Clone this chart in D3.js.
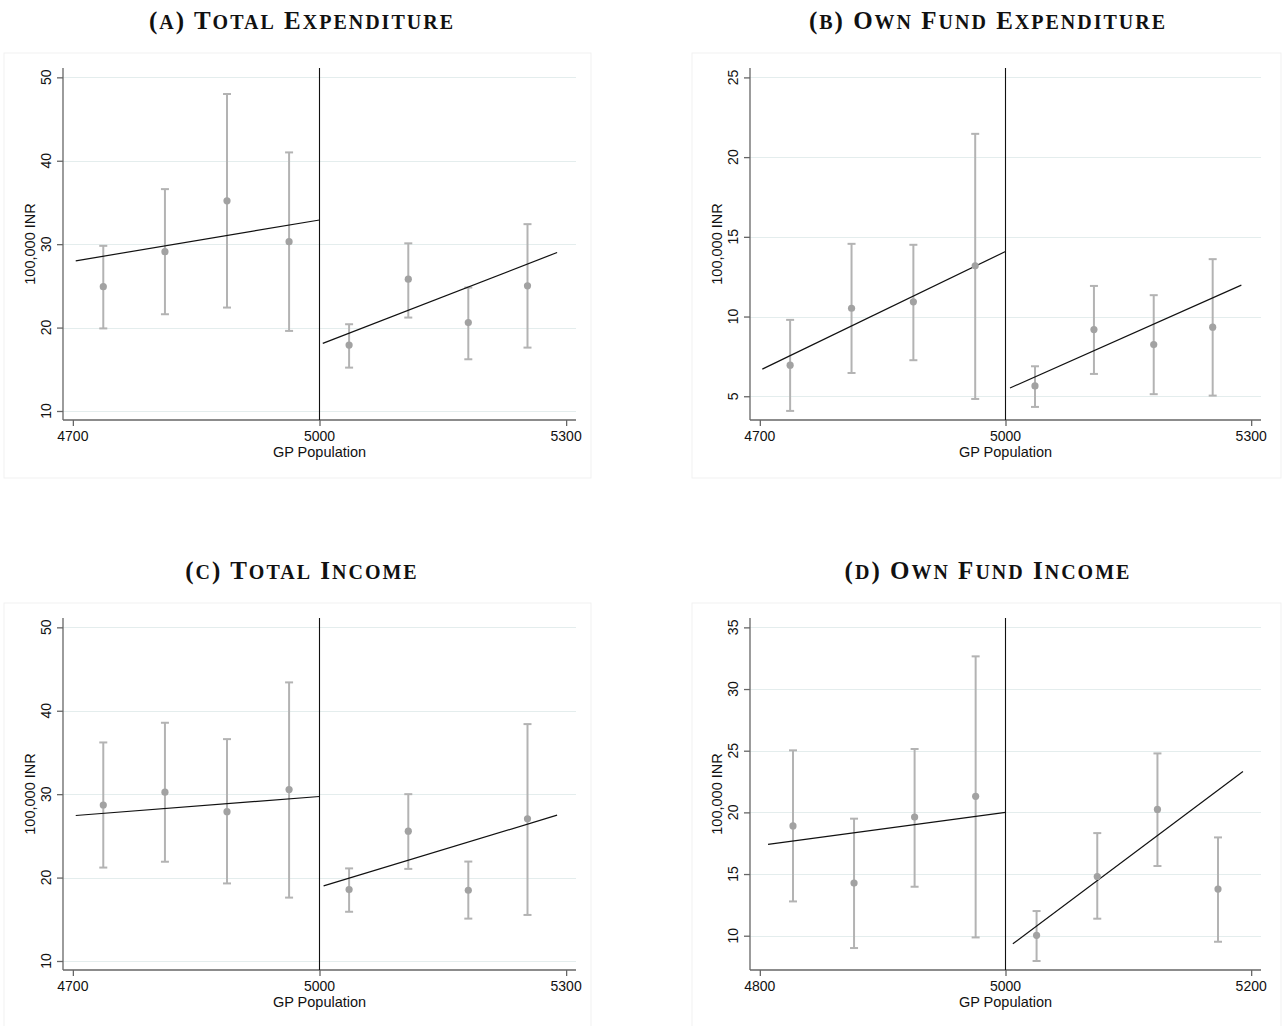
<!DOCTYPE html>
<html>
<head>
<meta charset="utf-8">
<script src="https://cdn.jsdelivr.net/npm/d3@7"></script>
<style>
  body { margin: 0; background: #fff; }
  .tick-label { font-family: "Liberation Sans", Arial, sans-serif; font-size: 14px; fill: #111; }
  .axis-title { font-family: "Liberation Sans", Arial, sans-serif; font-size: 14.5px; fill: #111; }
  .panel-title { font-family: "Liberation Serif", "Times New Roman", serif; font-weight: bold; font-size: 25px; fill: #111; letter-spacing: 2px; }
</style>
</head>
<body>
<script>
// panel titles (lowercase letters are set as small capitals)
const titles = ["(a) Total Expenditure", "(b) Own Fund Expenditure", "(c) Total Income", "(d) Own Fund Income"];

// tick labels
const xTicksWide = [4700, 5000, 5300];
const xTicksNarrow = [4800, 5000, 5200];
const yTicksA = [10, 20, 30, 40, 50];
const yTicksB = [5, 10, 15, 20, 25];
const yTicksC = [10, 20, 30, 40, 50];
const yTicksD = [10, 15, 20, 25, 30, 35];

// bin centres (GP population)
const binsWide = [4737, 4812, 4887.5, 4963, 5036, 5108, 5181, 5253];
const binsNarrow = [4827, 4876.7, 4926, 4975.7, 5025.3, 5074.7, 5123.7, 5173];

// (a) total expenditure
const meanA = [24.9, 29.1, 35.2, 30.3, 17.9, 25.8, 20.6, 25.0];
const loA = [19.9, 21.6, 22.4, 19.6, 15.2, 21.2, 16.2, 17.6];
const hiA = [29.8, 36.6, 48.0, 41.0, 20.4, 30.1, 24.8, 32.4];
const fitA = [[[4703.5, 28.0], [5000, 32.9]], [[5004, 18.1], [5289, 29.0]]];

// (b) own fund expenditure
const meanB = [6.95, 10.52, 10.92, 13.18, 5.65, 9.18, 8.24, 9.33];
const loB = [4.08, 6.46, 7.26, 4.83, 4.33, 6.4, 5.13, 5.04];
const hiB = [9.79, 14.56, 14.5, 21.46, 6.88, 11.92, 11.34, 13.6];
const fitB = [[[4703, 6.7], [5000, 14.08]], [[5005.5, 5.52], [5288, 11.97]]];

// (c) total income
const meanC = [28.7, 30.24, 27.9, 30.56, 18.56, 25.56, 18.48, 27.04];
const loC = [21.2, 21.9, 19.3, 17.6, 15.9, 21.04, 15.08, 15.52];
const hiC = [36.2, 38.56, 36.6, 43.4, 21.1, 30.0, 21.92, 38.4];
const fitC = [[[4703.5, 27.44], [5000, 29.72]], [[5005, 19.0], [5289, 27.48]]];

// (d) own fund income
const meanD = [18.9, 14.27, 19.62, 21.3, 10.03, 14.8, 20.24, 13.78];
const loD = [12.78, 9.0, 13.97, 9.86, 7.95, 11.38, 15.65, 9.51];
const hiD = [25.03, 19.49, 25.14, 32.65, 12.0, 18.32, 24.78, 17.97];
const fitD = [[[4806.7, 17.41], [5000, 20.0]], [[5006, 9.35], [5193.3, 23.32]]];

const svg = d3.select("body").append("svg")
  .attr("width", 1282)
  .attr("height", 1026);

const panels = [
  { title: titles[0], left: 63, right: 576, top: 68, bottom: 420, xDom: [4688, 5312], yDom: [8.92, 51.12],
    xTicks: xTicksWide, yTicks: yTicksA, bins: binsWide, mean: meanA, lo: loA, hi: hiA, fit: fitA,
    titleX: 302, titleY: 29, frame: [4, 53, 591, 478] },
  { title: titles[1], left: 750, right: 1261, top: 68, bottom: 420, xDom: [4688, 5312], yDom: [3.51, 25.59],
    xTicks: xTicksWide, yTicks: yTicksB, bins: binsWide, mean: meanB, lo: loB, hi: hiB, fit: fitB,
    titleX: 988, titleY: 29, frame: [692, 53, 1281, 478] },
  { title: titles[2], left: 63, right: 576, top: 618, bottom: 970, xDom: [4688, 5312], yDom: [8.92, 51.12],
    xTicks: xTicksWide, yTicks: yTicksC, bins: binsWide, mean: meanC, lo: loC, hi: hiC, fit: fitC,
    titleX: 302, titleY: 579, frame: [4, 603, 591, 1030] },
  { title: titles[3], left: 750, right: 1261, top: 618, bottom: 970, xDom: [4792, 5208], yDom: [7.22, 35.76],
    xTicks: xTicksNarrow, yTicks: yTicksD, bins: binsNarrow, mean: meanD, lo: loD, hi: hiD, fit: fitD,
    titleX: 988, titleY: 579, frame: [692, 603, 1281, 1030] }
];

// split a title into runs of full caps and small caps
function smallCapRuns(str) {
  const runs = [];
  for (const ch of str) {
    const small = ch !== ch.toUpperCase();
    const last = runs[runs.length - 1];
    if (last && last.small === small) last.text += ch.toUpperCase();
    else runs.push({ small: small, text: ch.toUpperCase() });
  }
  return runs;
}

panels.forEach(p => {
  const g = svg.append("g");

  const x = d3.scaleLinear().domain(p.xDom).range([p.left, p.right]);
  const y = d3.scaleLinear().domain(p.yDom).range([p.bottom, p.top]);

  // faint outer frame
  g.append("rect")
    .attr("x", p.frame[0]).attr("y", p.frame[1])
    .attr("width", p.frame[2] - p.frame[0]).attr("height", p.frame[3] - p.frame[1])
    .attr("fill", "none").attr("stroke", "#f1f1f1").attr("stroke-width", 1);

  // title
  g.append("text")
    .attr("class", "panel-title")
    .attr("x", p.titleX).attr("y", p.titleY)
    .attr("text-anchor", "middle")
    .selectAll("tspan")
    .data(smallCapRuns(p.title))
    .enter().append("tspan")
    .attr("font-size", d => d.small ? "20px" : null)
    .text(d => d.text);

  // gridlines
  g.selectAll(".grid")
    .data(p.yTicks)
    .enter().append("line")
    .attr("x1", p.left).attr("x2", p.right)
    .attr("y1", d => Math.round(y(d)) + 0.5).attr("y2", d => Math.round(y(d)) + 0.5)
    .attr("stroke", "#e4eded").attr("stroke-width", 1.2);

  // y axis
  const yAxis = d3.axisLeft(y).tickValues(p.yTicks).tickSize(6).tickFormat("");
  const ya = g.append("g").attr("transform", `translate(${p.left},0)`).call(yAxis);
  ya.select(".domain").attr("d", `M0,${p.top}V${p.bottom}`);
  ya.selectAll("path,line").attr("stroke", "#666").attr("stroke-width", 1.3);

  g.selectAll(".ytl")
    .data(p.yTicks)
    .enter().append("text")
    .attr("class", "tick-label")
    .attr("text-anchor", "middle")
    .attr("transform", d => `translate(${p.left - 12},${y(d)}) rotate(-90)`)
    .text(d => d);

  // x axis
  const xAxis = d3.axisBottom(x).tickValues(p.xTicks).tickSize(6).tickFormat("");
  const xa = g.append("g").attr("transform", `translate(0,${p.bottom})`).call(xAxis);
  xa.select(".domain").attr("d", `M${p.left},0H${p.right}`);
  xa.selectAll("path,line").attr("stroke", "#666").attr("stroke-width", 1.3);

  g.selectAll(".xtl")
    .data(p.xTicks)
    .enter().append("text")
    .attr("class", "tick-label")
    .attr("text-anchor", "middle")
    .attr("x", d => x(d)).attr("y", p.bottom + 21)
    .text(d => d);

  // axis titles
  g.append("text")
    .attr("class", "axis-title")
    .attr("text-anchor", "middle")
    .attr("x", (p.left + p.right) / 2).attr("y", p.bottom + 37)
    .text("GP Population");

  g.append("text")
    .attr("class", "axis-title")
    .attr("text-anchor", "middle")
    .attr("transform", `translate(${p.left - 28},${(p.top + p.bottom) / 2}) rotate(-90)`)
    .text("100,000 INR");

  // cutoff line
  g.append("line")
    .attr("x1", x(5000)).attr("x2", x(5000))
    .attr("y1", p.top).attr("y2", p.bottom)
    .attr("stroke", "#111").attr("stroke-width", 1.1);

  // error bars
  const pts = p.bins.map((b, i) => ({ pop: b, mean: p.mean[i], lo: p.lo[i], hi: p.hi[i] }));
  const bars = g.selectAll(".bar").data(pts).enter().append("g");
  bars.append("line")
    .attr("x1", d => x(d.pop)).attr("x2", d => x(d.pop))
    .attr("y1", d => y(d.lo)).attr("y2", d => y(d.hi))
    .attr("stroke", "#b3b3b3").attr("stroke-width", 2);
  bars.append("line")
    .attr("x1", d => x(d.pop) - 4).attr("x2", d => x(d.pop) + 4)
    .attr("y1", d => y(d.lo)).attr("y2", d => y(d.lo))
    .attr("stroke", "#b3b3b3").attr("stroke-width", 2);
  bars.append("line")
    .attr("x1", d => x(d.pop) - 4).attr("x2", d => x(d.pop) + 4)
    .attr("y1", d => y(d.hi)).attr("y2", d => y(d.hi))
    .attr("stroke", "#b3b3b3").attr("stroke-width", 2);

  // fitted lines
  const line = d3.line().x(d => x(d[0])).y(d => y(d[1]));
  p.fit.forEach(seg => {
    g.append("path")
      .attr("d", line(seg))
      .attr("fill", "none").attr("stroke", "#111").attr("stroke-width", 1.2);
  });

  // bin means
  g.selectAll(".pt").data(pts).enter().append("circle")
    .attr("cx", d => x(d.pop)).attr("cy", d => y(d.mean))
    .attr("r", 3.6)
    .attr("fill", "#a2a2a2");
});
</script>
</body>
</html>
